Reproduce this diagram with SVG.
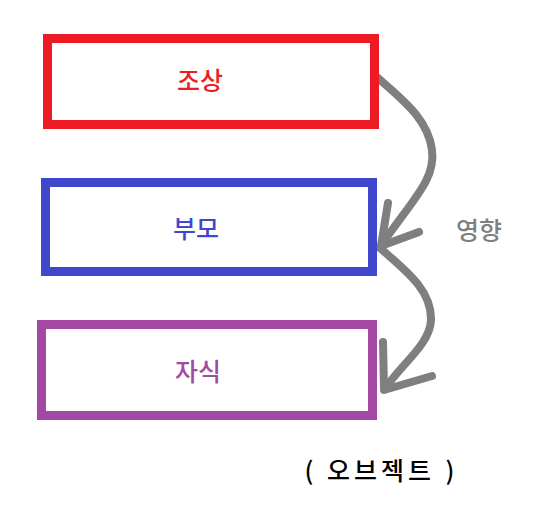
<svg xmlns="http://www.w3.org/2000/svg" width="546" height="513" viewBox="0 0 546 513">
<style>
.box{fill:#fff;stroke-width:9}
.lbl{font-family:"Noto Sans CJK KR","Noto Sans",sans-serif;font-size:25px;text-anchor:middle;dominant-baseline:central;font-weight:500}
.arr{fill:none;stroke:#7f7f7f;stroke-width:8;stroke-linecap:round;stroke-linejoin:round}
</style>
<rect width="546" height="513" fill="#fff"/>
<g id="connectors">
<path class="arr" d="M378,78 C400,98 428,118 432,150 C436,180 412,200 380,247"/>
<path class="arr" d="M388,203 L381,246 L419,232"/>
<path class="arr" d="M380,248 C405,270 432,290 431,320 C430,345 400,365 385,389"/>
<path class="arr" d="M383,342 L384,390 L432,376"/>
</g>
<g id="n1">
<rect class="box" x="47.5" y="38.5" width="327" height="86" stroke="#ed1c24"/>
<text class="lbl" x="200" y="79" fill="#ed1c24">조상</text>
</g>
<g id="n2">
<rect class="box" x="45.5" y="182.5" width="327" height="89" stroke="#3f48cc"/>
<text class="lbl" x="196" y="227" fill="#3f48cc">부모</text>
</g>
<g id="n3">
<rect class="box" x="41.5" y="324.5" width="331" height="91" stroke="#a349a4"/>
<text class="lbl" x="198" y="370" fill="#a349a4">자식</text>
</g>
<g id="label">
<text class="lbl" x="479" y="229" fill="#7f7f7f">영향</text>
<text class="lbl" y="469" fill="#000" font-weight="bold" font-size="25"><tspan x="309">(</tspan><tspan x="381" letter-spacing="4">오브젝트</tspan><tspan x="450">)</tspan></text>
</g>
</svg>
